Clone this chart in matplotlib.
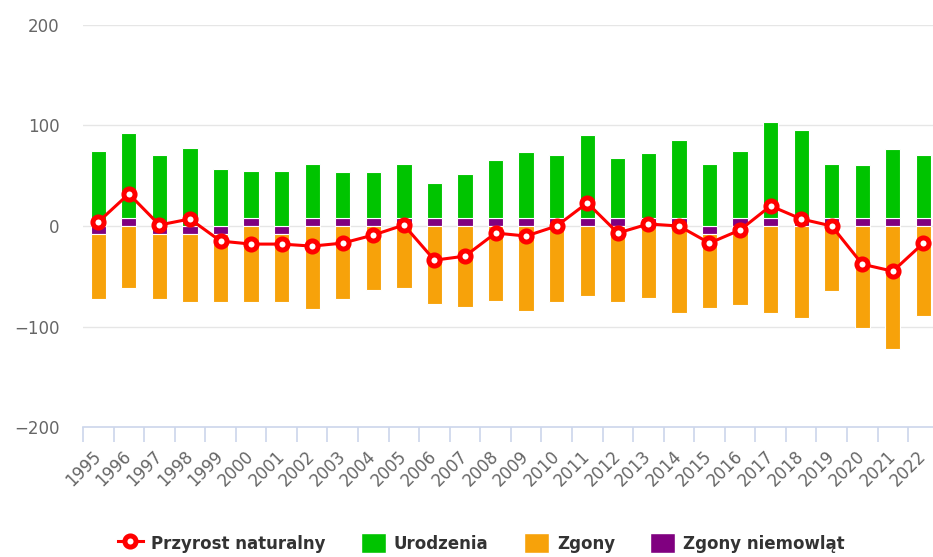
import numpy as np
import matplotlib
matplotlib.use("Agg")
import matplotlib.pyplot as plt
from matplotlib.lines import Line2D
from matplotlib.patches import Patch

# values
years = list(range(1995, 2023))
urodzenia = [75, 85, 71, 78, 57, 47, 55, 54, 46, 46, 54, 35, 44, 58,
             66, 63, 83, 60, 65, 78, 62, 67, 95, 88, 54, 53, 69, 63]
zgony = [-65, -62, -65, -68, -68, -76, -68, -83, -73, -64, -62, -78, -81, -75,
         -85, -76, -70, -76, -72, -87, -74, -79, -87, -92, -65, -101, -122, -90]
zgony_niemowlat = [-8, 8, -8, -8, -8, 8, -8, 8, 8, 8, 8, 8, 8, 8,
                   8, 8, 8, 8, 8, 8, -8, 8, 8, 8, 8, 8, 8, 8]
przyrost = [4, 32, 1, 7, -15, -18, -18, -20, -17, -9, 1, -34, -30, -7,
            -10, 0, 23, -7, 2, 0, -17, -4, 20, 7, 0, -38, -45, -17]

GREEN = "#00c400"
ORANGE = "#f7a20a"
PURPLE = "#800080"
RED = "#ff0000"
GRID = "#e6e6e6"
AXIS = "#ccd6eb"
LABEL = "#666666"

W, H = 933, 557
fig = plt.figure(figsize=(W / 100, H / 100), dpi=100)
fig.patch.set_facecolor("white")
pitch = 30.56
ax = fig.add_axes([83 / W, 130 / H, 28 * pitch / W, 402 / H])

x = np.arange(len(years))
niem = np.array(zgony_niemowlat)
pos_base = np.where(niem > 0, niem, 0)
neg_base = np.where(niem < 0, niem, 0)

bw = 0.5
ax.bar(x, niem, width=bw, color=PURPLE, edgecolor="white", linewidth=0.8, zorder=2)
ax.bar(x, urodzenia, bottom=pos_base, width=bw, color=GREEN,
       edgecolor="white", linewidth=0.8, zorder=2)
ax.bar(x, zgony, bottom=neg_base, width=bw, color=ORANGE,
       edgecolor="white", linewidth=0.8, zorder=2)

ax.plot(x, przyrost, color=RED, linewidth=2.2, marker="o", markersize=8,
        markerfacecolor="white", markeredgecolor=RED, markeredgewidth=3.6, zorder=4)

ax.set_xlim(-0.5, 27.5)
ax.set_ylim(-200, 200)
ax.set_yticks([-200, -100, 0, 100, 200])
ax.set_yticklabels(["\u2212200", "\u2212100", "0", "100", "200"])
for yv in [-100, 0, 100, 200]:
    ax.axhline(yv, color=GRID, linewidth=1.0, zorder=0)

for s in ["top", "right", "left"]:
    ax.spines[s].set_visible(False)
ax.spines["bottom"].set_color(AXIS)
ax.spines["bottom"].set_linewidth(1.2)

ax.tick_params(axis="y", length=0, pad=17, labelsize=12, labelcolor=LABEL)
ax.set_xticks(x)
ax.set_xticklabels([str(y) for y in years])
ax.set_xticks(np.arange(-0.5, 28, 1), minor=True)
ax.tick_params(axis="x", which="major", length=0, pad=19, labelsize=12, labelcolor=LABEL)
ax.tick_params(axis="x", which="minor", length=11, width=1.2, color=AXIS)
for lbl in ax.get_xticklabels():
    lbl.set_rotation(45)
    lbl.set_ha("right")
    lbl.set_va("center")
    lbl.set_rotation_mode("anchor")

handles = [
    Line2D([], [], color=RED, linewidth=2.2, marker="o", markersize=8,
           markerfacecolor="white", markeredgecolor=RED, markeredgewidth=3.6),
    Patch(facecolor=GREEN, edgecolor="white"),
    Patch(facecolor=ORANGE, edgecolor="white"),
    Patch(facecolor=PURPLE, edgecolor="white"),
]
names = ["Przyrost naturalny", "Urodzenia", "Zgony", "Zgony niemowląt"]
leg = fig.legend(handles, names, loc="center", bbox_to_anchor=(0.516, 0.025),
                 ncol=4, frameon=False, handlelength=1.5, handleheight=1.4,
                 handletextpad=0.5, columnspacing=2.1,
                 prop={"size": 12, "weight": "bold"})
for t in leg.get_texts():
    t.set_color("#333333")

fig.savefig("out.png", dpi=100)
